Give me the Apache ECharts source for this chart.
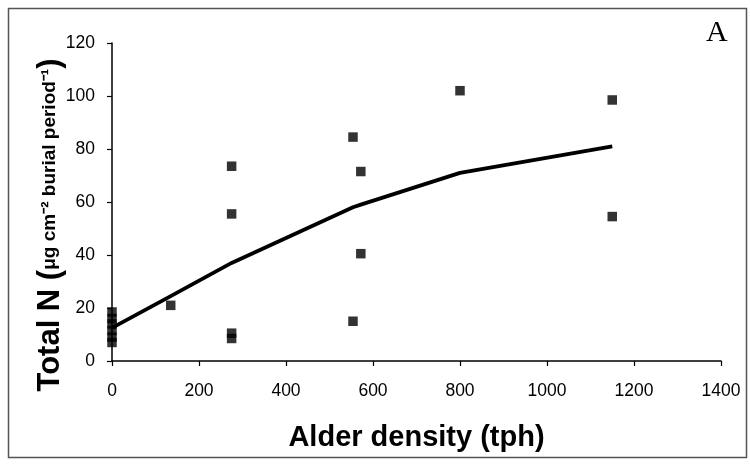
<!DOCTYPE html>
<html>
<head>
<meta charset="utf-8">
<script src="https://cdn.jsdelivr.net/npm/echarts@6/dist/echarts.min.js"></script>
<style>html,body{margin:0;padding:0;background:#fff;}#c{width:750px;height:464px;}</style>
</head>
<body>
<div id="c"></div>
<script>
// Observed data
const densities = [0, 0, 0, 0, 0, 0, 135, 275, 275, 275, 275, 554, 572, 572, 554, 800, 1150, 1150];
const totalN = [7, 9, 11.5, 14, 16, 18.5, 21, 73.5, 55.5, 10.5, 8.5, 84.5, 71.5, 40.5, 15, 102, 98.5, 54.5];
// Fitted curve
const fitX = [0, 135, 275, 554, 572, 800, 1150];
const fitY = [12.5, 24.5, 37, 58, 59, 71, 81];
// Axis ticks
const xTicks = [0, 200, 400, 600, 800, 1000, 1200, 1400];
const yTicks = [0, 20, 40, 60, 80, 100, 120];
const panelLabel = 'A';
const xTitle = 'Alder density (tph)';
const yTitle = '{a|Total N }{a|(}{b|μg cm⁻² burial period⁻¹}{a|)}';

const chart = echarts.init(document.getElementById('c'), null, {renderer: 'canvas'});
const font = 'Liberation Sans, Arial, sans-serif';
chart.setOption({
  animation: false,
  backgroundColor: '#fff',
  grid: {left: 112, right: 29, top: 43, bottom: 103},
  xAxis: {
    type: 'value', min: xTicks[0], max: xTicks[xTicks.length - 1], interval: xTicks[1] - xTicks[0],
    name: xTitle, nameLocation: 'middle', nameGap: 62,
    nameTextStyle: {fontFamily: font, fontWeight: 'bold', fontSize: 29, color: '#000'},
    axisLine: {show: true, lineStyle: {color: '#000', width: 1.5}},
    axisTick: {show: true, length: 5, lineStyle: {color: '#000', width: 1.2}},
    axisLabel: {fontFamily: font, fontSize: 17.5, color: '#000', margin: 21, formatter: v => String(v)},
    splitLine: {show: false}
  },
  yAxis: {
    type: 'value', min: yTicks[0], max: yTicks[yTicks.length - 1], interval: yTicks[1] - yTicks[0],
    axisLine: {show: true, lineStyle: {color: '#000', width: 1.5}},
    axisTick: {show: true, length: 5, lineStyle: {color: '#000', width: 1.2}},
    axisLabel: {fontFamily: font, fontSize: 17.5, color: '#000', margin: 17, formatter: v => String(v)},
    splitLine: {show: false}
  },
  graphic: [
    {type: 'rect', left: 6, top: 6, shape: {width: 738, height: 449}, style: {fill: 'none', stroke: '#555', lineWidth: 1.5}, z: -1},
    {type: 'text', left: 706, top: 18, style: {text: panelLabel, font: '30px "Liberation Serif", "Times New Roman", serif', fill: '#000'}},
    {type: 'text', x: 50, y: 225, rotation: Math.PI / 2,
     style: {text: yTitle, align: 'center', verticalAlign: 'middle',
       rich: {
         a: {fontFamily: font, fontWeight: 'bold', fontSize: 31, fill: '#000', color: '#000'},
         b: {fontFamily: font, fontWeight: 'bold', fontSize: 19, fill: '#000', color: '#000'}
       }}}
  ],
  series: [
    {
      type: 'scatter', symbol: 'rect', symbolSize: 9.5,
      itemStyle: {color: '#000'},
      data: densities.map((d, i) => [d, totalN[i]]), z: 3
    },
    {
      type: 'line', symbol: 'none', smooth: false,
      lineStyle: {color: '#000', width: 3.8},
      data: fitX.map((d, i) => [d, fitY[i]]), z: 2
    }
  ]
});
</script>
</body>
</html>
